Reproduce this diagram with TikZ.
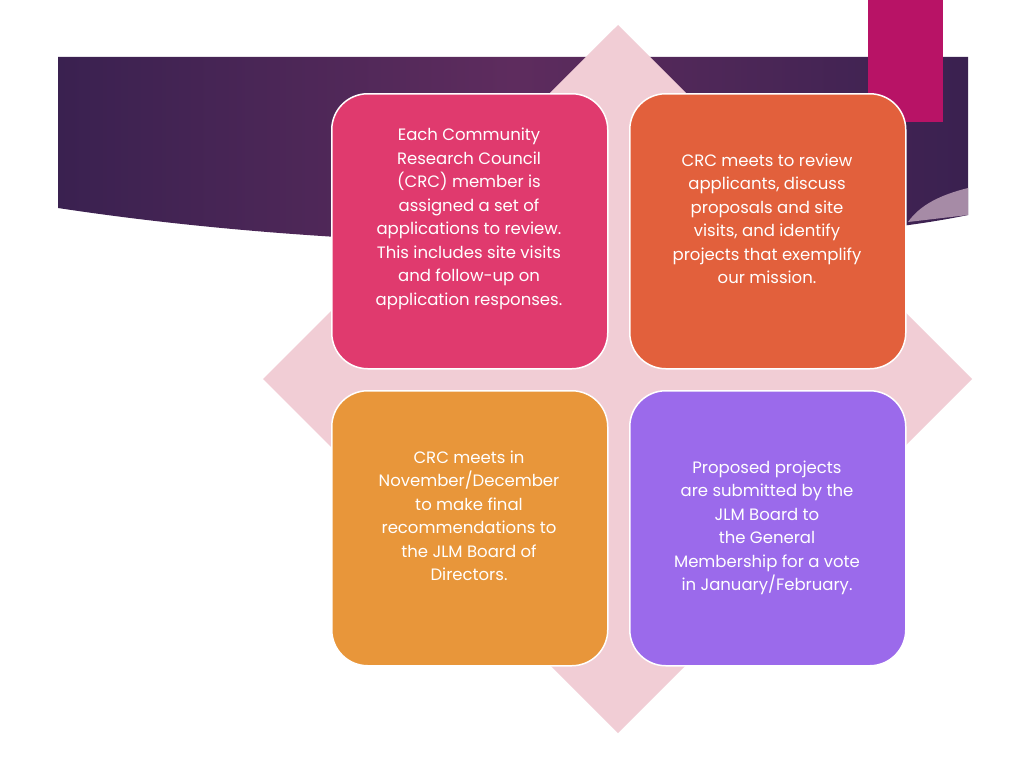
\documentclass[tikz,border=0pt]{standalone}
\usepackage{fontspec}
\setmainfont{Poppins}
\begin{document}
\begin{tikzpicture}[x=1pt,y=-1pt,
  card/.style={draw=white,line width=1.5pt,rounded corners=36pt,minimum width=276pt,minimum height=275pt,anchor=north west},
  txt/.style={text=white,align=center,font=\fontsize{16.5}{23.5}\selectfont}]
\definecolor{bandA}{HTML}{3A2150}\definecolor{bandB}{HTML}{5E2C5E}
\definecolor{pinkbg}{RGB}{241,205,213}
\useasboundingbox (0,0) rectangle (1024,768);
\fill[white] (0,0) rectangle (1024,768);
\shade[left color=bandA,right color=bandA,middle color=bandB] (58,57) -- (968,57) -- (968,215) .. controls (800,250) and (400,260) .. (58,208) -- cycle;
\fill[color=white!45!bandB] (968,188) .. controls (940,195) and (920,205) .. (908,222) -- (968,215) -- cycle;
\fill[color={rgb,255:red,184;green,19;blue,102}] (868,0) rectangle (943,122);
\fill[pinkbg] (618,25) -- (972,379) -- (618,733) -- (263,379) -- cycle;
\node[card,fill={rgb,255:red,224;green,58;blue,110}] (a) at (331,93) {};
\node[card,fill={rgb,255:red,226;green,96;blue,60}] (b) at (629,93) {};
\node[card,fill={rgb,255:red,232;green,150;blue,58}] (c) at (331,390) {};
\node[card,fill={rgb,255:red,155;green,106;blue,235}] (d) at (629,390) {};
\node[txt] (ta) at (469,219) {Each Community\\Research Council\\(CRC) member is\\assigned a set of\\applications to review.\\This includes site visits\\and follow-up on\\application responses.};
\node[txt] (tb) at (767,219) {CRC meets to review\\applicants, discuss\\proposals and site\\visits, and identify\\projects that exemplify\\our mission.};
\node[txt] (tc) at (469,516) {CRC meets in\\November/December\\to make final\\recommendations to\\the JLM Board of\\Directors.};
\node[txt] (td) at (767,528) {Proposed projects\\are submitted by the\\JLM Board to\\the General\\Membership for a vote\\in January/February.};
\end{tikzpicture}
\end{document}
